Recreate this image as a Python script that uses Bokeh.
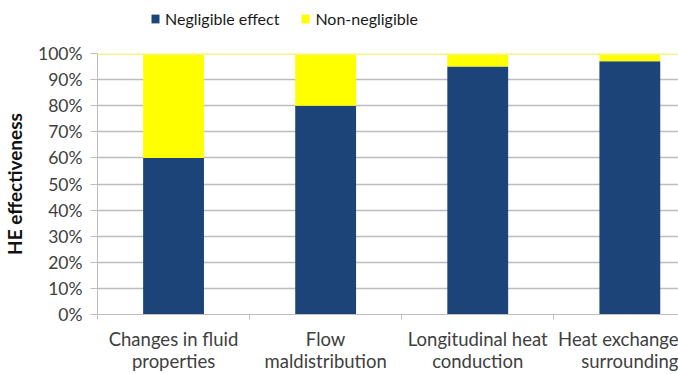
from bokeh.plotting import figure
from bokeh.layouts import column
from bokeh.models import (Range1d, FixedTicker, LinearAxis, Legend, LegendItem,
                          NumeralTickFormatter, Span, ColumnDataSource)
from bokeh.embed import file_html
from bokeh.resources import INLINE

# ---- data ----
label_line1 = ["Changes in fluid", "Flow", "Longitudinal heat", "Heat exchange"]
label_line2 = ["properties", "maldistribution", "conduction", "surrounding"]
positions = [0, 1, 2, 3]
negligible = [0.60, 0.80, 0.95, 0.97]
non_negligible = [0.40, 0.20, 0.05, 0.03]
y_ticks = [0.0, 0.1, 0.2, 0.3, 0.4, 0.5, 0.6, 0.7, 0.8, 0.9, 1.0]
series_names = ["Negligible effect", "Non-negligible"]

NAVY = "#1d4479"
YELLOW = "#ffff00"
GRID = "#bdbdbd"
TXT = "#404040"
FONT = "Lato"

LEG_H = 38

src = ColumnDataSource(dict(x=positions, neg=negligible, non=non_negligible))

p = figure(width=678, height=374 - LEG_H, x_range=Range1d(-0.5, 3.32), y_range=Range1d(0, 1),
           output_backend="svg", toolbar_location=None,
           min_border_left=97, min_border_right=0, min_border_top=53 - LEG_H,
           min_border_bottom=59)
p.outline_line_color = None
p.background_fill_color = "white"

rs = p.vbar_stack(["neg", "non"], x="x", width=0.4, color=[NAVY, YELLOW],
                  line_color=None, source=src)

# grid
p.xgrid.visible = False
p.ygrid.ticker = FixedTicker(ticks=y_ticks[:-1])
p.ygrid.grid_line_color = GRID
p.ygrid.grid_line_width = 1.5
top_line = Span(location=1.0, dimension="width", line_color="#f4f48a", line_width=3)
p.add_layout(top_line)

# y axis
ya = p.yaxis[0]
ya.ticker = FixedTicker(ticks=y_ticks)
ya.formatter = NumeralTickFormatter(format="0%")
ya.major_tick_out = 7
ya.major_tick_in = 0
ya.minor_tick_out = 0
ya.minor_tick_in = 0
ya.axis_line_color = GRID
ya.major_tick_line_color = GRID
ya.major_label_text_font = FONT
ya.major_label_text_font_size = "17.5px"
ya.major_label_text_color = TXT
ya.major_label_standoff = 8
ya.axis_label = "HE effectiveness"
ya.axis_label_text_font = FONT
ya.axis_label_text_font_size = "19px"
ya.axis_label_text_font_style = "bold"
ya.axis_label_text_color = "#111111"
ya.axis_label_standoff = 9

# x axis: first line of labels + boundary ticks
xa = p.xaxis[0]
xa.ticker = FixedTicker(ticks=positions, minor_ticks=[-0.5, 0.5, 1.5, 2.5])
xa.major_label_overrides = {pos: t for pos, t in zip(positions, label_line1)}
xa.major_tick_out = 0
xa.major_tick_in = 0
xa.minor_tick_out = 5
xa.minor_tick_in = 0
xa.minor_tick_line_color = GRID
xa.axis_line_color = GRID
xa.major_label_text_font = FONT
xa.major_label_text_font_size = "18.5px"
xa.major_label_text_color = TXT
xa.major_label_standoff = 8

# second line of labels
xb = LinearAxis(ticker=FixedTicker(ticks=positions, minor_ticks=[]))
xb.major_label_overrides = {pos: t for pos, t in zip(positions, label_line2)}
xb.major_tick_out = 0
xb.major_tick_in = 0
xb.minor_tick_out = 0
xb.minor_tick_in = 0
xb.axis_line_color = None
xb.major_label_text_font = FONT
xb.major_label_text_font_size = "18.5px"
xb.major_label_text_color = TXT
xb.major_label_standoff = -3
p.add_layout(xb, "below")

# ---- legend strip on top (its bars lie outside its visible y range) ----
lf = figure(width=678, height=LEG_H, x_range=Range1d(-0.5, 3.32), y_range=Range1d(5, 6),
            output_backend="svg", toolbar_location=None, min_border=0)
lf.axis.visible = False
lf.grid.visible = False
lf.outline_line_color = None
lrs = lf.vbar_stack(["neg", "non"], x="x", width=0.4, color=[NAVY, YELLOW],
                    line_color=None, source=src)
legend = Legend(items=[LegendItem(label=series_names[0], renderers=[lrs[0]]),
                       LegendItem(label=series_names[1], renderers=[lrs[1]])],
                location=(53, 10), orientation="horizontal",
                glyph_width=10, glyph_height=11, label_standoff=5, spacing=21,
                padding=0, margin=0, label_height=20,
                border_line_color=None, background_fill_alpha=0,
                label_text_font=FONT, label_text_font_size="16px",
                label_text_color="#1a1a1a")
lf.add_layout(legend)

open("out.html", "w").write(file_html(column(lf, p, spacing=0), INLINE))
